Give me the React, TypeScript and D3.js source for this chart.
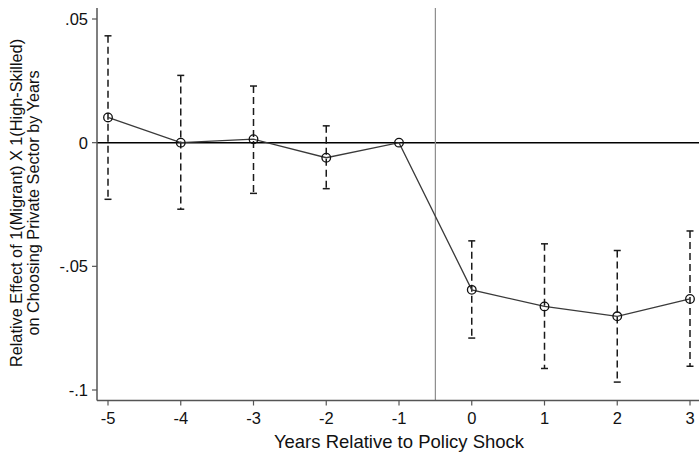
import React from "react";
import * as d3 from "d3";

// Event-study estimates by year relative to the policy shock
const years = [-5, -4, -3, -2, -1, 0, 1, 2, 3];
const estimates = [0.0102, 0.0, 0.0014, -0.0061, 0.0, -0.0595, -0.0662, -0.0702, -0.0632];
const ciLower = [-0.0229, -0.0269, -0.0205, -0.0186, null, -0.079, -0.0913, -0.0968, -0.0904];
const ciUpper = [0.0432, 0.0272, 0.0229, 0.0068, null, -0.0397, -0.0409, -0.0436, -0.0357];
const yTicks = [0.05, 0, -0.05, -0.1];
const yTickLabels = [".05", "0", "-.05", "-.1"];
const shockLine = -0.5;

const W = 699;
const H = 452;
const axisX = 97;
const axisY = 400.5;
const plotTop = 8;
const FONT = "'Liberation Sans', Arial, Helvetica, sans-serif";

export default function App() {
  const x = d3.scaleLinear().domain([-5, 3]).range([108, 690]);
  const y = d3.scaleLinear().domain([-0.1, 0.05]).range([390, 19]);

  const line = d3
    .line<number>()
    .x((_, i) => x(years[i]))
    .y((d) => y(d));

  const capHalf = 3.5;

  return (
    <svg
      width={W}
      height={H}
      style={{ position: "absolute", left: 0, top: 0, background: "#fff" }}
      fontFamily={FONT}
    >
      <rect x={0} y={0} width={W} height={H} fill="#fff" />

      {/* reference line at zero */}
      <line x1={axisX} x2={W} y1={y(0)} y2={y(0)} stroke="#000" strokeWidth={1.5} />

      {/* policy shock marker */}
      <line
        x1={x(shockLine)}
        x2={x(shockLine)}
        y1={plotTop}
        y2={axisY}
        stroke="#8c8c8c"
        strokeWidth={1.2}
      />

      {/* confidence intervals */}
      {years.map((yr, i) => {
        const lo = ciLower[i];
        const hi = ciUpper[i];
        if (lo == null || hi == null) return null;
        const cx = x(yr);
        return (
          <g key={"ci" + yr} stroke="#1a1a1a" strokeWidth={1.5}>
            <line x1={cx} x2={cx} y1={y(hi)} y2={y(lo)} strokeDasharray="7 4" />
            <line x1={cx - capHalf} x2={cx + capHalf} y1={y(hi)} y2={y(hi)} />
            <line x1={cx - capHalf} x2={cx + capHalf} y1={y(lo)} y2={y(lo)} />
          </g>
        );
      })}

      {/* point estimates */}
      <path d={line(estimates) || ""} fill="none" stroke="#3a3a3a" strokeWidth={1.3} />
      {years.map((yr, i) => (
        <circle
          key={"pt" + yr}
          cx={x(yr)}
          cy={y(estimates[i])}
          r={4.3}
          fill="none"
          stroke="#111"
          strokeWidth={1.3}
        />
      ))}

      {/* y axis */}
      <line x1={axisX} x2={axisX} y1={plotTop} y2={axisY} stroke="#555" strokeWidth={1.5} />
      {yTicks.map((t, i) => (
        <g key={"yt" + t}>
          <line x1={axisX - 5} x2={axisX} y1={y(t)} y2={y(t)} stroke="#555" strokeWidth={1.2} />
          <text
            x={axisX - 9}
            y={y(t)}
            textAnchor="end"
            dominantBaseline="central"
            fontSize={16.5}
            fill="#111"
          >
            {yTickLabels[i]}
          </text>
        </g>
      ))}

      {/* x axis */}
      <line x1={axisX} x2={W} y1={axisY} y2={axisY} stroke="#555" strokeWidth={1.5} />
      {years.map((t) => (
        <g key={"xt" + t}>
          <line x1={x(t)} x2={x(t)} y1={axisY} y2={axisY + 5} stroke="#555" strokeWidth={1.2} />
          <text x={x(t)} y={423.5} textAnchor="middle" fontSize={16.5} fill="#111">
            {t}
          </text>
        </g>
      ))}

      <text x={399} y={448} textAnchor="middle" fontSize={18.5} fill="#111">
        Years Relative to Policy Shock
      </text>

      <g transform={`translate(0, 203) rotate(-90)`}>
        <text x={0} y={22} textAnchor="middle" fontSize={16.3} fill="#111">
          Relative Effect of 1(Migrant) X 1(High-Skilled)
        </text>
        <text x={0} y={39} textAnchor="middle" fontSize={16.3} fill="#111">
          on Choosing Private Sector by Years
        </text>
      </g>
    </svg>
  );
}
